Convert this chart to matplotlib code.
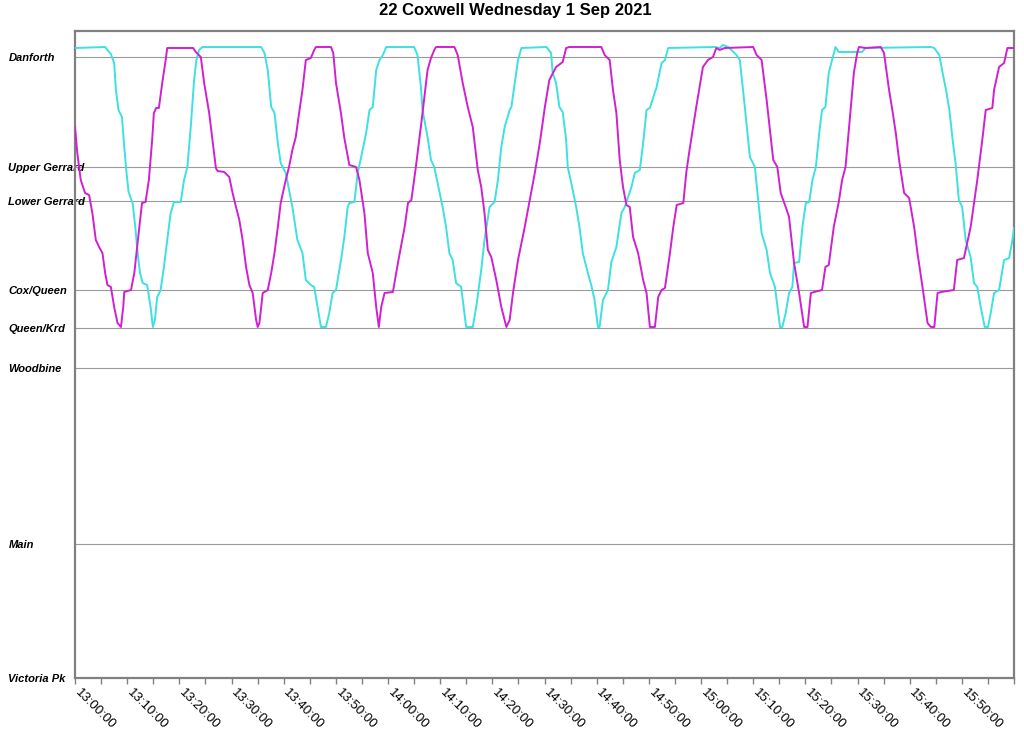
import numpy as np
import matplotlib
matplotlib.use("Agg")
import matplotlib.pyplot as plt
import matplotlib.transforms as mtransforms

plt.rcParams['font.family'] = ['Liberation Sans', 'DejaVu Sans']

title = "22 Coxwell Wednesday 1 Sep 2021"

# stops, distance in km from Victoria Pk
stop_names = ['Victoria Pk', 'Main', 'Woodbine', 'Queen/Krd', 'Cox/Queen',
              'Lower Gerrard', 'Upper Gerrard', 'Danforth']
stop_km = [0.00, 1.34, 3.10, 3.50, 3.88, 4.77, 5.11, 6.21]

# minutes after 13:00
tick_min = list(range(0, 181, 5))
label_min = list(range(0, 171, 10))

# bus 1 (magenta)
mag_t = [0.0, 0.44, 1.10, 1.93, 2.70, 3.33, 3.99, 4.62, 5.26, 5.78, 6.22, 6.88, 7.51, 8.15, 8.81, 9.25, 9.44, 10.73, 11.37, 11.70, 12.33, 12.85,
         13.52, 14.16, 14.79, 15.12, 15.56, 16.08, 16.72, 17.38, 17.68, 22.64, 23.16, 24.12, 24.76, 25.72, 26.35, 27.01, 27.32, 28.61, 29.57, 30.21, 30.86, 31.50, 32.13, 32.79, 33.43, 34.06, 34.72, 35.03, 35.35, 35.99, 36.95, 37.61, 38.24, 38.88,
         39.43, 40.40, 41.03, 41.67, 42.32, 42.96, 43.60, 44.25, 45.21, 45.85, 46.18, 49.07, 49.51, 50.03, 50.67, 50.98, 51.63, 52.59, 53.88, 54.52, 55.48, 56.12, 57.08, 57.74, 58.24, 58.70, 59.34, 60.94, 61.90, 63.19, 63.83, 64.48,
         65.34, 65.98, 66.62, 67.58, 68.24, 68.87, 69.20, 72.73, 73.36, 74.32, 75.29, 76.25, 77.21, 77.87, 78.50, 79.14, 79.80, 80.76, 81.72, 82.69, 83.32, 83.96, 84.92, 86.21, 87.18, 88.14, 89.10, 90.07,
         90.93, 92.22, 93.49, 94.15, 94.78, 100.89, 101.53, 102.49, 103.13, 103.78, 104.42, 105.05, 105.71, 106.34, 106.98, 107.94, 108.91, 109.56, 110.20, 111.16, 111.80, 112.45, 113.09, 114.05, 114.69, 115.34, 116.61,
         117.17, 117.80, 119.09, 120.37, 121.33, 122.29, 122.95, 123.58, 124.55, 130.00, 130.66, 131.62, 132.58, 133.85, 134.63, 135.28, 136.24, 136.88, 137.84, 138.81, 139.77, 140.41, 141.06, 141.70,
         143.20, 143.85, 144.49, 145.45, 146.41, 147.05, 147.70, 148.34, 149.30, 149.94, 150.27, 151.56, 154.45, 155.08, 156.05, 156.68, 157.34, 157.97, 158.94, 159.90, 160.86, 161.50, 162.46, 163.43, 164.08, 164.72, 165.35, 166.01,
         168.47, 169.11, 170.40, 171.69, 172.96, 173.92, 174.58, 175.85, 176.18, 177.14, 178.10, 178.74, 180.0]
mag_km = [5.51, 5.25, 4.98, 4.85, 4.83, 4.65, 4.38, 4.31, 4.25, 4.05, 3.93, 3.91, 3.71, 3.55, 3.51, 3.71, 3.86, 3.88, 4.05, 4.21, 4.51, 4.75,
          4.76, 4.98, 5.38, 5.65, 5.70, 5.70, 5.95, 6.18, 6.30, 6.30, 6.26, 6.21, 5.95, 5.65, 5.38, 5.10, 5.07, 5.06, 5.01, 4.85, 4.71, 4.58, 4.38, 4.11, 3.93, 3.85, 3.58, 3.51, 3.55, 3.85, 3.88, 4.05, 4.25, 4.51,
          4.75, 4.98, 5.11, 5.28, 5.41, 5.65, 5.88, 6.18, 6.20, 6.28, 6.31, 6.31, 6.25, 5.95, 5.75, 5.65, 5.40, 5.13, 5.11, 4.98, 4.65, 4.25, 4.05, 3.71, 3.51, 3.71, 3.85, 3.86, 4.15, 4.51, 4.75, 4.78,
          5.11, 5.38, 5.65, 6.08, 6.20, 6.28, 6.31, 6.31, 6.23, 5.95, 5.71, 5.51, 5.08, 4.91, 4.65, 4.28, 4.21, 3.98, 3.71, 3.51, 3.58, 3.85, 4.18, 4.51, 4.78, 5.05, 5.35, 5.71,
          5.98, 6.11, 6.16, 6.30, 6.31, 6.31, 6.23, 6.18, 5.88, 5.65, 5.18, 4.91, 4.73, 4.71, 4.41, 4.25, 3.98, 3.85, 3.51, 3.51, 3.81, 3.88, 3.90, 4.25, 4.51, 4.73, 4.75,
          5.05, 5.28, 5.71, 6.11, 6.18, 6.21, 6.30, 6.28, 6.30, 6.31, 6.23, 6.18, 5.78, 5.18, 5.11, 4.85, 4.71, 4.61, 4.15, 3.85, 3.51, 3.51, 3.85, 3.86,
          3.88, 4.11, 4.13, 4.51, 4.76, 4.98, 5.11, 5.48, 6.05, 6.25, 6.31, 6.30, 6.31, 6.25, 5.88, 5.68, 5.45, 5.18, 4.85, 4.80, 4.51, 4.25, 3.91, 3.55, 3.51, 3.51, 3.85, 3.86,
          3.88, 4.18, 4.20, 4.51, 4.98, 5.38, 5.68, 5.70, 5.88, 6.11, 6.15, 6.30, 6.30]

# bus 2 (cyan)
cyan_t = [0.0, 5.78, 6.22, 6.88, 7.51, 7.84, 8.34, 9.00, 9.44, 9.88, 10.27, 11.04, 11.56, 12.00, 12.47, 12.97,
          13.83, 14.49, 14.93, 15.31, 15.76, 16.41, 17.05, 17.68, 18.34, 18.98, 20.27, 20.90, 21.54, 22.19, 22.83, 23.27, 23.79, 24.43, 35.68, 36.32, 36.95, 37.61, 38.24, 38.88,
          39.43, 40.40, 41.67, 42.63, 43.60, 44.25, 45.21, 45.85, 46.49, 47.14, 48.10, 48.74, 49.38, 50.03, 50.99, 51.63, 52.27, 52.59, 53.56, 54.19, 54.85, 55.81, 56.45, 57.08, 57.74, 58.37, 59.01, 59.67,
          65.02, 65.65, 66.31, 66.62, 67.58, 68.24, 68.87, 69.51, 70.47, 71.13, 71.76, 72.40, 73.05, 74.02, 74.98, 76.25, 76.91, 77.87, 78.50, 79.47, 80.43, 81.07, 81.72, 82.36, 83.32, 83.65, 84.29, 84.92, 85.58, 90.39,
          91.26, 91.57, 92.22, 92.86, 93.49, 94.15, 94.46, 95.42, 96.07, 96.71, 97.34, 98.31, 98.96, 99.60, 100.24, 100.56, 101.20, 102.16, 102.82, 103.78, 104.74, 105.38, 106.67, 107.31, 108.27, 108.91, 109.56, 110.20, 111.49, 112.45, 113.09, 113.72,
          122.62, 123.58, 124.22, 125.18, 125.84, 126.80, 127.44, 128.40, 129.37, 130.33, 130.96, 131.62, 132.58, 133.22, 134.18, 135.15, 135.59, 136.24, 136.88, 137.52, 137.84, 138.81, 139.44, 140.10, 140.73, 141.37, 142.02, 142.66,
          143.20, 143.85, 144.49, 145.12, 145.78, 146.41, 150.85, 151.56, 164.08, 164.72, 165.68, 166.32, 166.97, 167.61, 168.24,
          168.80, 169.43, 170.07, 170.73, 171.69, 172.33, 172.96, 173.62, 174.39, 175.02, 175.54, 176.18, 177.14, 178.10, 179.07, 179.70, 180.0]
cyan_km = [6.30, 6.31, 6.28, 6.24, 6.15, 5.88, 5.68, 5.61, 5.31, 5.05, 4.86, 4.75, 4.51, 4.25, 4.05, 3.95,
           3.93, 3.71, 3.51, 3.58, 3.81, 3.88, 4.11, 4.38, 4.65, 4.76, 4.76, 4.98, 5.11, 5.51, 5.98, 6.18, 6.28, 6.31, 6.31, 6.25, 6.08, 5.71, 5.65, 5.35,
           5.15, 5.05, 4.71, 4.38, 4.25, 3.98, 3.93, 3.91, 3.71, 3.51, 3.51, 3.65, 3.85, 3.88, 4.18, 4.41, 4.71, 4.75, 4.76, 5.05, 5.21, 5.45, 5.68, 5.71, 6.08, 6.18, 6.23, 6.31,
           6.31, 6.23, 5.91, 5.68, 5.41, 5.18, 5.11, 4.95, 4.71, 4.51, 4.25, 4.18, 3.95, 3.91, 3.51, 3.51, 3.71, 4.08, 4.38, 4.71, 4.76, 4.98, 5.31, 5.51, 5.68, 5.71, 5.95, 6.18, 6.30, 6.31,
           6.25, 6.05, 5.95, 5.71, 5.66, 5.38, 5.11, 4.88, 4.71, 4.51, 4.25, 4.05, 3.93, 3.78, 3.51, 3.51, 3.78, 3.88, 4.16, 4.31, 4.65, 4.71, 4.91, 5.05, 5.08, 5.35, 5.68, 5.70, 5.91, 6.15, 6.18, 6.30,
           6.31, 6.30, 6.33, 6.31, 6.28, 6.23, 6.18, 5.71, 5.21, 5.11, 4.78, 4.45, 4.28, 4.05, 3.91, 3.51, 3.51, 3.65, 3.85, 3.91, 4.15, 4.16, 4.51, 4.75, 4.76, 4.98, 5.11, 5.45,
           5.68, 5.71, 6.05, 6.18, 6.31, 6.26, 6.26, 6.30, 6.31, 6.30, 6.23, 6.05, 5.88, 5.68, 5.38,
           5.15, 4.78, 4.71, 4.38, 4.21, 3.95, 3.91, 3.71, 3.51, 3.51, 3.65, 3.85, 3.88, 4.18, 4.20, 4.38, 4.50]

fig = plt.figure(figsize=(10.24, 7.38), dpi=100)
ax = fig.add_axes([75/1024, 1-678/738, (1014-75)/1024, (678-31)/738])

for d in stop_km[1:]:
    ax.axhline(d, color='#9a9a9a', lw=0.8, zorder=1)

ax.plot(cyan_t, cyan_km, color='#3ee0e0', lw=1.4, zorder=3)
ax.plot(mag_t, mag_km, color='#d020d0', lw=1.4, zorder=3)

ax.set_xlim(0, 180)
ax.set_ylim(0, 6.47)

ax.set_yticks(stop_km)
ax.set_yticklabels(stop_names, fontsize=8, fontweight='bold', fontstyle='italic')
for lbl in ax.get_yticklabels():
    lbl.set_ha('left')
ax.tick_params(axis='y', length=0, pad=48)

labels = []
for m in tick_min:
    if m in label_min:
        labels.append("%d:%02d:00" % (13 + m // 60, m % 60))
    else:
        labels.append("")
ax.set_xticks(tick_min)
ax.set_xticklabels(labels, fontsize=9.5, rotation=-45, ha='left', va='top', rotation_mode='anchor')
ax.tick_params(axis='x', length=4.5, width=1, color='#808080', pad=2)
shift = mtransforms.ScaledTranslation(6/100, 0, fig.dpi_scale_trans)
for lbl in ax.get_xticklabels():
    lbl.set_transform(lbl.get_transform() + shift)

for s in ax.spines.values():
    s.set_color('#808080')
    s.set_linewidth(1.6)

fig.text(515/1024, 1-10/738, title, ha='center', va='center', fontsize=12, fontweight='bold')

fig.savefig('out.png', dpi=100)
